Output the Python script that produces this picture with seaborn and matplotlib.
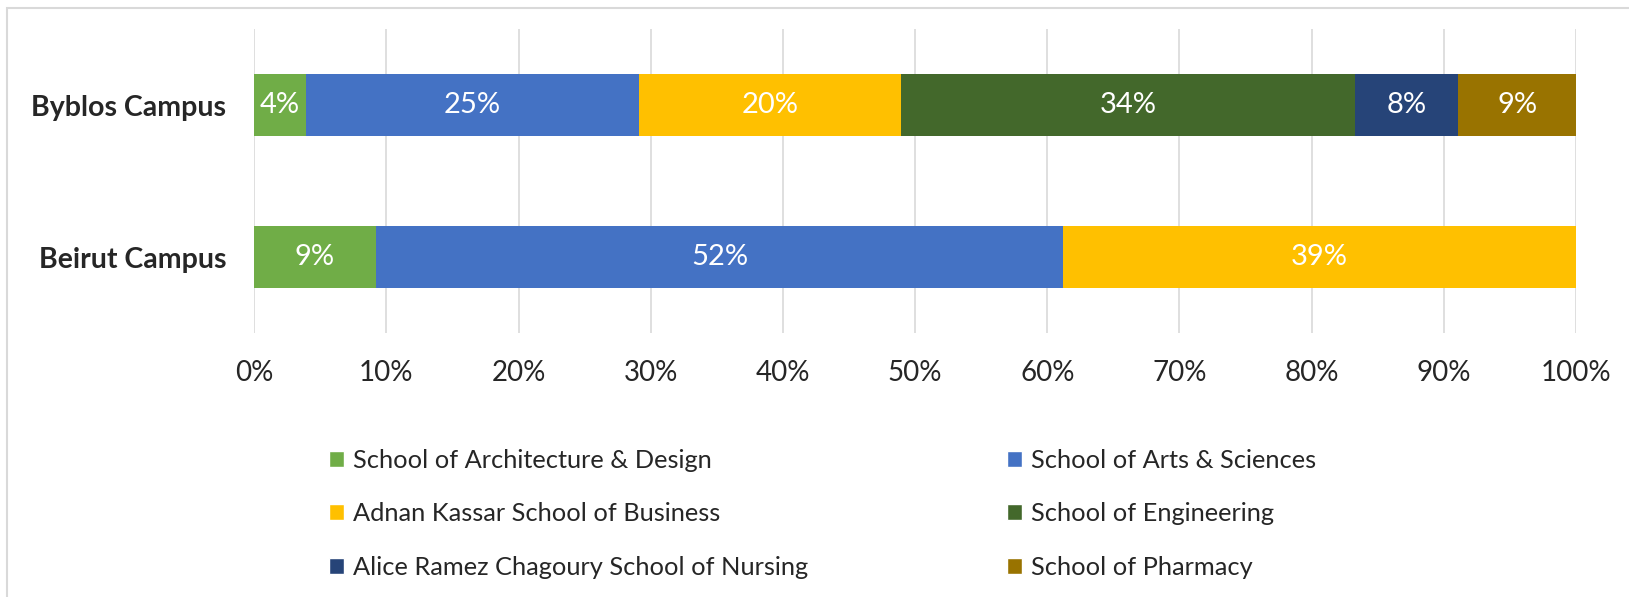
import matplotlib
matplotlib.use('Agg')
import matplotlib.pyplot as plt
from matplotlib.patches import Patch, Rectangle
import seaborn as sns
import pandas as pd
import numpy as np

# Share of students per school, by campus (percent)
campuses = ['Byblos Campus', 'Beirut Campus']
schools = [
    'School of Architecture & Design',
    'School of Arts & Sciences',
    'Adnan Kassar School of Business',
    'School of Engineering',
    'Alice Ramez Chagoury School of Nursing',
    'School of Pharmacy',
]
byblos = [3.9, 25.2, 19.8, 34.4, 7.8, 8.9]
beirut = [9.2, 52.0, 38.8, 0, 0, 0]
colors = ['#70AD47', '#4472C4', '#FFC000', '#43682B', '#264478', '#997300']

sns.set_theme(style='white')
plt.rcParams['font.family'] = ['Lato', 'DejaVu Sans']

df = pd.DataFrame({'campus': campuses, **{s: [a, b] for s, a, b in zip(schools, byblos, beirut)}})
cum = df[schools].cumsum(axis=1)

fig = plt.figure(figsize=(16.29, 5.97), dpi=100)
ax = fig.add_axes([0.156, 0.442, 0.8115, 0.509])

# stacked bars: draw cumulative totals, largest first
for i in range(len(schools) - 1, -1, -1):
    sns.barplot(x=cum[schools[i]], y=df['campus'], orient='h', color=colors[i],
                width=0.41, ax=ax, saturation=1, linewidth=0, order=campuses)

# segment labels
for r, campus in enumerate(campuses):
    for i, s in enumerate(schools):
        v = df.loc[r, s]
        if v <= 0:
            continue
        mid = cum.loc[r, s] - v / 2
        ax.text(mid, r, f'{v:.0f}%', ha='center', va='center',
                color='white', fontsize=21)

ax.set_xlim(0, 100)
ax.set_ylim(1.5, -0.5)
ax.set_xticks(np.arange(0, 101, 10))
ax.set_xticklabels([f'{t}%' for t in range(0, 101, 10)], fontsize=20)
ax.tick_params(axis='x', length=0, pad=19)
ax.tick_params(axis='y', length=0, pad=20)
for lbl in ax.get_yticklabels():
    lbl.set_fontsize(20.5)
    lbl.set_fontweight('bold')
ax.set_xlabel('')
ax.set_ylabel('')
ax.xaxis.grid(True, color='#D9D9D9', linewidth=1.2)
ax.set_axisbelow(True)
for sp in ax.spines.values():
    sp.set_visible(False)

# legend: two columns, three rows
order = [0, 2, 4, 1, 3, 5]
handles = [Patch(facecolor=colors[i], label=schools[i]) for i in order]
fig.legend(handles=handles, loc='upper left', bbox_to_anchor=(0.188, 0.287),
           ncol=2, frameon=False, fontsize=18.3, handlelength=0.6, handleheight=0.6,
           handletextpad=0.35, columnspacing=7.8, labelspacing=1.2)

# light outer frame
fig.patches.append(Rectangle((0.004, -0.02), 1.1, 1.006, transform=fig.transFigure,
                             fill=False, edgecolor='#D9D9D9', linewidth=1.5))

fig.savefig('out.png', dpi=100)
